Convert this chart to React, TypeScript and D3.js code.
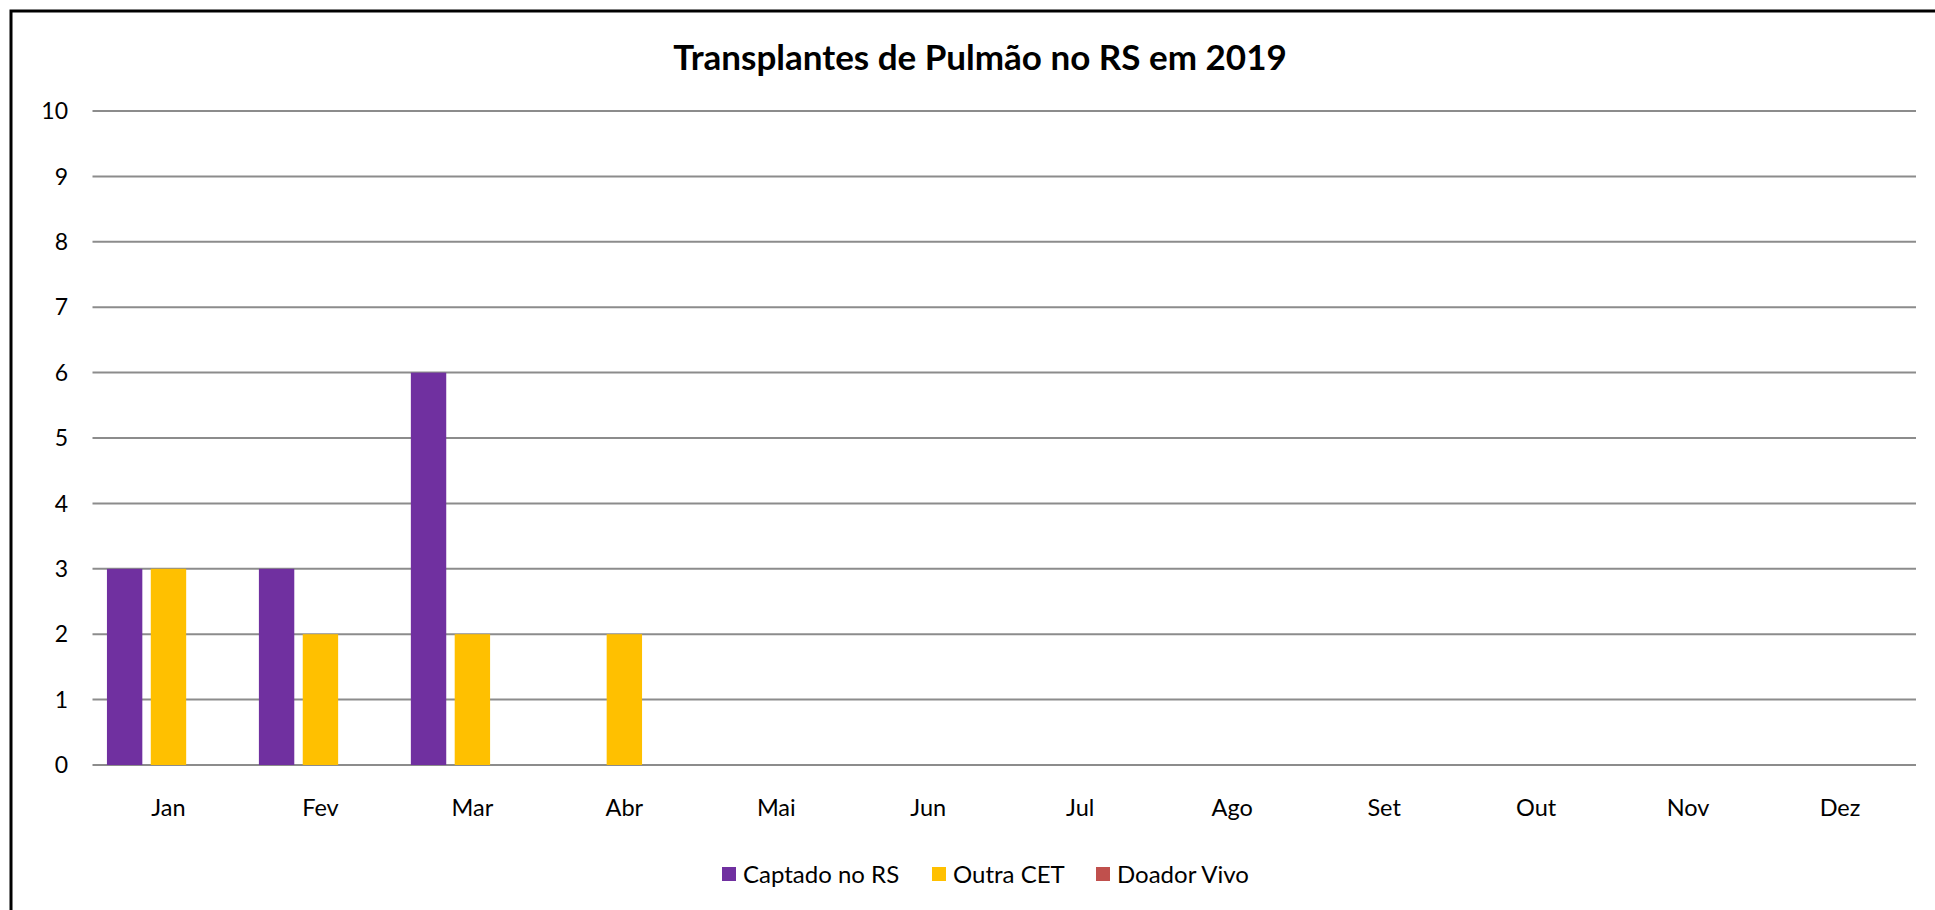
import { useEffect, useRef } from "react";
import * as d3 from "d3";

const months = ["Jan", "Fev", "Mar", "Abr", "Mai", "Jun", "Jul", "Ago", "Set", "Out", "Nov", "Dez"];
const seriesNames = ["Captado no RS", "Outra CET", "Doador Vivo"];
const captadoRS = [3, 3, 6, 0, 0, 0, 0, 0, 0, 0, 0, 0];
const outraCET = [3, 2, 2, 2, 0, 0, 0, 0, 0, 0, 0, 0];
const doadorVivo = [0, 0, 0, 0, 0, 0, 0, 0, 0, 0, 0, 0];
const yTicks = [0, 1, 2, 3, 4, 5, 6, 7, 8, 9, 10];
const colors = ["#7030A0", "#FFC000", "#C0504D"];

const W = 1935;
const H = 910;
const FONT = "Lato, 'Open Sans', sans-serif";

const App = () => {
  const ref = useRef<SVGSVGElement>(null);

  useEffect(() => {
    const svg = d3.select(ref.current);
    svg.selectAll("*").remove();

    const plot = { left: 92.5, right: 1916, top: 111, bottom: 765 };
    const values = [captadoRS, outraCET, doadorVivo];

    // fundo e borda do gráfico
    svg.append("rect").attr("width", W).attr("height", H).attr("fill", "#fff");
    svg.append("rect")
      .attr("x", 11).attr("y", 11)
      .attr("width", W + 20).attr("height", H + 20)
      .attr("fill", "none").attr("stroke", "#000").attr("stroke-width", 3);

    // título
    svg.append("text")
      .attr("x", 980).attr("y", 70)
      .attr("text-anchor", "middle")
      .attr("font-family", FONT).attr("font-weight", "bold").attr("font-size", 35)
      .attr("fill", "#000")
      .text("Transplantes de Pulmão no RS em 2019");

    const y = d3.scaleLinear().domain([0, 10]).range([plot.bottom, plot.top]);
    const x0 = d3.scaleBand().domain(months).range([plot.left, plot.right]);
    const edge = x0.bandwidth() * 0.095;
    const x1 = d3.scaleBand()
      .domain(seriesNames)
      .range([edge, x0.bandwidth() - edge])
      .paddingInner(0.193);

    // linhas de grade
    svg.append("g").selectAll("line")
      .data(yTicks)
      .enter().append("line")
      .attr("x1", plot.left).attr("x2", plot.right)
      .attr("y1", (d) => y(d)).attr("y2", (d) => y(d))
      .attr("stroke", "#8c8c8c").attr("stroke-width", 2);

    // rótulos do eixo Y
    svg.append("g").selectAll("text")
      .data(yTicks)
      .enter().append("text")
      .attr("x", 68).attr("y", (d) => y(d))
      .attr("dy", "0.36em")
      .attr("text-anchor", "end")
      .attr("font-family", FONT).attr("font-size", 23)
      .attr("fill", "#000")
      .text((d) => d);

    // barras
    const groups = svg.append("g").selectAll("g")
      .data(months)
      .enter().append("g")
      .attr("transform", (d) => `translate(${x0(d)},0)`);

    groups.selectAll("rect")
      .data((_, i) => seriesNames.map((s, k) => ({ s, v: values[k][i], c: colors[k] })))
      .enter().append("rect")
      .filter((d) => d.v > 0)
      .attr("x", (d) => x1(d.s) as number)
      .attr("width", x1.bandwidth())
      .attr("y", (d) => y(d.v))
      .attr("height", (d) => y(0) - y(d.v))
      .attr("fill", (d) => d.c);

    // rótulos do eixo X
    svg.append("g").selectAll("text")
      .data(months)
      .enter().append("text")
      .attr("x", (d) => (x0(d) as number) + x0.bandwidth() / 2)
      .attr("y", 808)
      .attr("dy", "0.36em")
      .attr("text-anchor", "middle")
      .attr("font-family", FONT).attr("font-size", 23.5)
      .attr("fill", "#000")
      .text((d) => d);

    // legenda
    const legendX = [722, 932, 1096];
    const legend = svg.append("g").selectAll("g")
      .data(seriesNames)
      .enter().append("g")
      .attr("transform", (_, i) => `translate(${legendX[i]},874)`);
    legend.append("rect")
      .attr("x", 0).attr("y", -7)
      .attr("width", 14).attr("height", 14)
      .attr("fill", (_, i) => colors[i]);
    legend.append("text")
      .attr("x", 21).attr("y", 0)
      .attr("dy", "0.36em")
      .attr("font-family", FONT).attr("font-size", 24)
      .attr("fill", "#000")
      .text((d) => d);
  }, []);

  return (
    <svg
      ref={ref}
      width={W}
      height={H}
      style={{ position: "absolute", left: 0, top: 0, display: "block" }}
    />
  );
};

export default App;
